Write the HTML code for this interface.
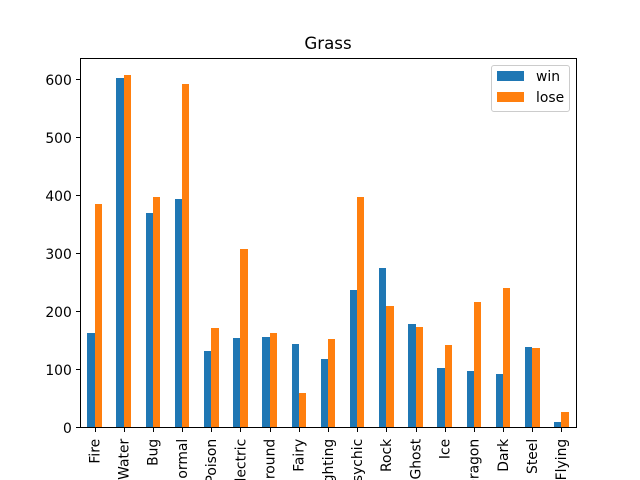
<!DOCTYPE html>
<html>
<head>
<meta charset="utf-8">
<title>Grass</title>
<style>
html,body{margin:0;padding:0;background:#fff;width:640px;height:480px;overflow:hidden}
svg{display:block;font-family:"DejaVu Sans","Liberation Sans",sans-serif}
text{fill:#000}
</style>
</head>
<body>
<svg id="chart" width="640" height="480" viewBox="0 0 640 480" xmlns="http://www.w3.org/2000/svg">
<rect x="0" y="0" width="640" height="480" fill="#fff"/>
<g id="bars"></g>
<g id="xaxis"></g>
<g id="yaxis"></g>
<g stroke="#000" stroke-width="1" shape-rendering="crispEdges">
<line x1="80.5" y1="58" x2="80.5" y2="428"/>
<line x1="576.5" y1="58" x2="576.5" y2="428"/>
<line x1="80" y1="58.5" x2="577" y2="58.5"/>
<line x1="80" y1="427.5" x2="577" y2="427.5"/>
</g>
<text x="328" y="49" font-size="16.67" text-anchor="middle">Grass</text>
<g>
<rect x="491.5" y="65.5" width="78" height="46" rx="2.5" ry="2.5" fill="#fff" fill-opacity="0.8" stroke="#ccc" stroke-width="1"/>
<rect id="legend-win" x="497" y="71" width="27" height="10" shape-rendering="crispEdges"/>
<text x="536" y="81" font-size="13.89">win</text>
<rect id="legend-lose" x="497" y="92" width="27" height="10" shape-rendering="crispEdges"/>
<text x="536" y="102" font-size="13.89">lose</text>
</g>
</svg>
<script>
var categories = ["Fire","Water","Bug","Normal","Poison","Electric","Ground","Fairy","Fighting","Psychic","Rock","Ghost","Ice","Dragon","Dark","Steel","Flying"];
var winValues = [162,601,369,393,132,154,156,144,118,236,274,178,102,97,92,138,9];
var loseValues = [384,606,396,591,171,307,162,59,152,397,209,173,141,215,240,136,26];
var yTicks = [0,100,200,300,400,500,600];

var NS = "http://www.w3.org/2000/svg";
var WIN_COLOR = "#1f77b4";
var LOSE_COLOR = "#ff7f0e";
var plotLeft = 80, plotRight = 576, plotTop = 57.6, plotBottom = 427.2;
var yMax = Math.max.apply(null, winValues.concat(loseValues)) * 1.05;

function xScale(i) {
  return plotLeft + (i + 0.5) * (plotRight - plotLeft) / categories.length;
}
function yScale(v) {
  return plotBottom - v / yMax * (plotBottom - plotTop);
}
function make(tag, attrs, parent) {
  var el = document.createElementNS(NS, tag);
  for (var k in attrs) el.setAttribute(k, attrs[k]);
  parent.appendChild(el);
  return el;
}

document.getElementById("legend-win").setAttribute("fill", WIN_COLOR);
document.getElementById("legend-lose").setAttribute("fill", LOSE_COLOR);

var barsGroup = document.getElementById("bars");
var xGroup = document.getElementById("xaxis");
var yGroup = document.getElementById("yaxis");
var step = (plotRight - plotLeft) / categories.length;
var barW = step * 0.25;

categories.forEach(function (name, i) {
  var cx = xScale(i);
  var x0 = Math.round(cx - barW);
  var xm = Math.round(cx);
  var x1 = Math.round(cx + barW);
  var base = Math.round(plotBottom);

  var wy = Math.round(yScale(winValues[i]));
  var winBar = make("rect", {x: x0, y: wy, width: xm - x0, height: base - wy, fill: WIN_COLOR, "shape-rendering": "crispEdges"}, barsGroup);
  
  

  var ly = Math.round(yScale(loseValues[i]));
  var loseBar = make("rect", {x: xm, y: ly, width: x1 - xm, height: base - ly, fill: LOSE_COLOR, "shape-rendering": "crispEdges"}, barsGroup);
  
  

  var tx = Math.round(cx) + 0.5;
  var tick = make("line", {x1: tx, x2: tx, y1: 428, y2: 432, stroke: "#000", "stroke-width": 1, "shape-rendering": "crispEdges"}, xGroup);
  
  

  var lx = cx + 4.8;
  var label = make("text", {x: 0, y: 0, "font-size": 13.89, "text-anchor": "end", transform: "translate(" + lx + " 438.8) rotate(-90)"}, xGroup);
  label.textContent = name;
  
  
});

yTicks.forEach(function (v) {
  var y = Math.round(yScale(v)) + 0.5;
  var tick = make("line", {x1: 76, x2: 80, y1: y, y2: y, stroke: "#000", "stroke-width": 1, "shape-rendering": "crispEdges"}, yGroup);
  
  

  var label = make("text", {x: 71.8, y: y + 5.3, "font-size": 13.89, "text-anchor": "end"}, yGroup);
  label.textContent = String(v);
  
  
});
</script>
</body>
</html>
